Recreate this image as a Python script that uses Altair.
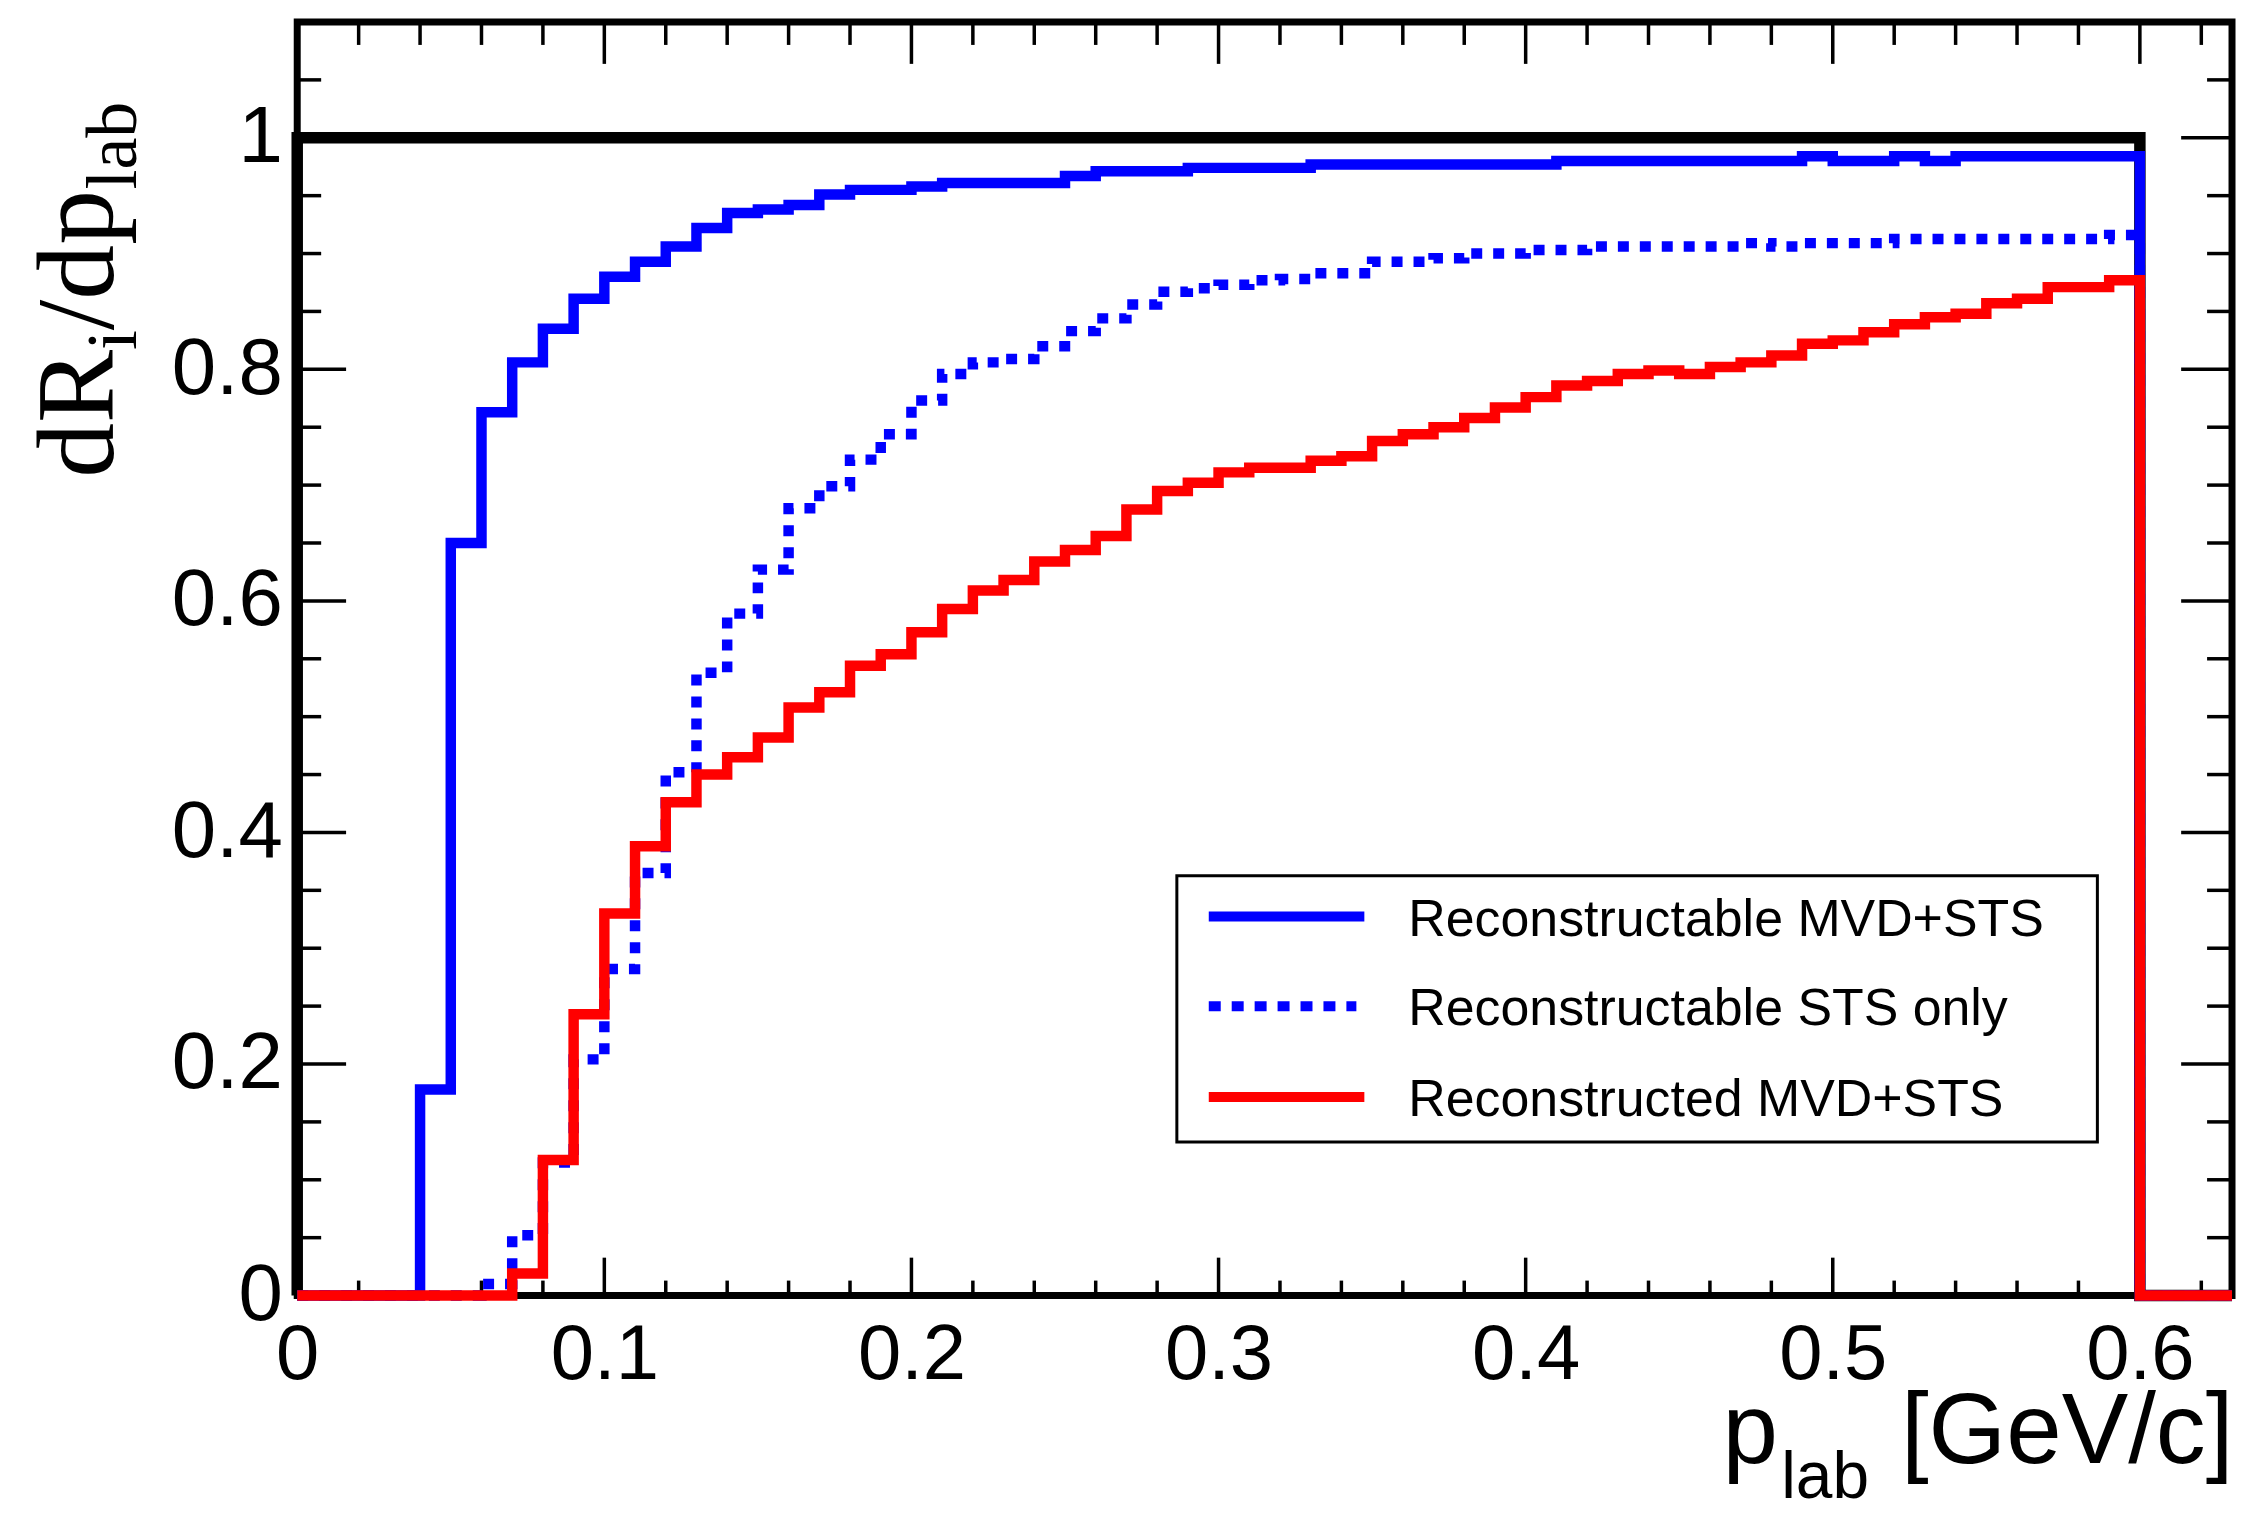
import altair as alt
import pandas as pd

# ---------------- data (bin width 0.01 GeV/c, bins 0.00 ... 0.62) ----------------
reconstructable_mvd_sts = [
    0, 0, 0, 0, 0.178, 0.650, 0.763, 0.806, 0.835, 0.861,
    0.880, 0.893, 0.906, 0.922, 0.935, 0.938, 0.942, 0.951, 0.955, 0.955,
    0.958, 0.961, 0.961, 0.961, 0.961, 0.967, 0.971, 0.971, 0.971, 0.974,
    0.974, 0.974, 0.974, 0.977, 0.977, 0.977, 0.977, 0.977, 0.977, 0.977,
    0.977, 0.980, 0.980, 0.980, 0.980, 0.980, 0.980, 0.980, 0.980, 0.984,
    0.980, 0.980, 0.984, 0.980, 0.984, 0.984, 0.984, 0.984, 0.984, 0.984,
    0, 0, 0,
]
reconstructable_sts_only = [
    0, 0, 0, 0, 0, 0, 0.010, 0.052, 0.115, 0.204,
    0.282, 0.365, 0.452, 0.538, 0.589, 0.627, 0.680, 0.699, 0.722, 0.744,
    0.773, 0.796, 0.806, 0.809, 0.820, 0.833, 0.844, 0.856, 0.867, 0.870,
    0.873, 0.877, 0.878, 0.883, 0.883, 0.893, 0.893, 0.896, 0.900, 0.900,
    0.903, 0.903, 0.906, 0.906, 0.906, 0.906, 0.906, 0.909, 0.906, 0.909,
    0.909, 0.909, 0.9125, 0.9125, 0.9125, 0.9125, 0.9125, 0.9125, 0.9125, 0.916,
    0, 0, 0,
]
reconstructed_mvd_sts = [
    0, 0, 0, 0, 0, 0, 0, 0.019, 0.117, 0.243,
    0.330, 0.388, 0.426, 0.450, 0.465, 0.482, 0.508, 0.521, 0.544, 0.554,
    0.573, 0.593, 0.609, 0.618, 0.634, 0.644, 0.656, 0.679, 0.695, 0.702,
    0.711, 0.715, 0.715, 0.721, 0.725, 0.738, 0.744, 0.750, 0.758, 0.767,
    0.776, 0.786, 0.790, 0.796, 0.799, 0.796, 0.802, 0.806, 0.812, 0.822,
    0.825, 0.832, 0.839, 0.845, 0.848, 0.857, 0.861, 0.871, 0.871, 0.877,
    0, 0, 0,
]
acceptance = [
    1, 1, 1, 1, 1, 1, 1, 1, 1, 1,
    1, 1, 1, 1, 1, 1, 1, 1, 1, 1,
    1, 1, 1, 1, 1, 1, 1, 1, 1, 1,
    1, 1, 1, 1, 1, 1, 1, 1, 1, 1,
    1, 1, 1, 1, 1, 1, 1, 1, 1, 1,
    1, 1, 1, 1, 1, 1, 1, 1, 1, 1,
    0, 0, 0,
]
legend_labels = ["Reconstructable MVD+STS", "Reconstructable STS only", "Reconstructed MVD+STS"]
x_tick_labels = [0, 0.1, 0.2, 0.3, 0.4, 0.5, 0.6]
y_tick_labels = [0, 0.2, 0.4, 0.6, 0.8, 1]
x_major_ticks = [0.1, 0.2, 0.3, 0.4, 0.5, 0.6]
x_minor_ticks = [0.02, 0.04, 0.06, 0.08, 0.12, 0.14, 0.16, 0.18, 0.22, 0.24, 0.26, 0.28,
                 0.32, 0.34, 0.36, 0.38, 0.42, 0.44, 0.46, 0.48, 0.52, 0.54, 0.56, 0.58, 0.62]
y_major_ticks = [0.2, 0.4, 0.6, 0.8, 1.0]
y_minor_ticks = [0.05, 0.1, 0.15, 0.25, 0.3, 0.35, 0.45, 0.5, 0.55, 0.65, 0.7, 0.75,
                 0.85, 0.9, 0.95, 1.05]

BIN = 0.01
X_MAX = 0.63
Y_MAX = 1.1

W, H = 1940, 1277


def steps(values):
    xs = [0.0] + [round(k * BIN, 2) for k in range(len(values))] + [X_MAX]
    ys = [0.0] + list(values) + [values[-1]]
    return pd.DataFrame({"p": xs, "v": ys, "i": list(range(len(xs)))})


xscale = alt.Scale(domain=[0, X_MAX], nice=False, zero=False)
yscale = alt.Scale(domain=[0, Y_MAX], nice=False, zero=False)

x_axis = alt.Axis(values=x_tick_labels, format="~g", labelFontSize=78, labelFont="Liberation Sans",
                  labelColor="black", ticks=False, tickSize=0, domain=False, grid=False,
                  title=None, labelPadding=21, labelFlush=False, labelOverlap=False)
y_axis = alt.Axis(values=y_tick_labels, format="~g", labelFontSize=80, labelFont="Liberation Sans",
                  labelColor="black", ticks=False, tickSize=0, domain=False, grid=False,
                  title=None, labelPadding=15, labelFlush=False, labelOverlap=False)


def X():
    return alt.X("p:Q", scale=xscale, axis=x_axis)


def Y():
    return alt.Y("v:Q", scale=yscale, axis=y_axis)


def hist(values, color, width, dash=None):
    kw = dict(interpolate="step-after", color=color, strokeWidth=width,
              strokeCap="butt", strokeJoin="miter")
    if dash:
        kw["strokeDash"] = dash
    return alt.Chart(steps(values)).mark_line(**kw).encode(x=X(), y=Y(), order="i:Q")


# ---------------- inward ticks ----------------
tick_style = dict(color="black", strokeWidth=3.5)
xmaj = pd.DataFrame({"p": x_major_ticks})
xmin = pd.DataFrame({"p": x_minor_ticks})
ymaj = pd.DataFrame({"v": y_major_ticks})
ymin = pd.DataFrame({"v": y_minor_ticks})

ticks = [
    alt.Chart(xmaj).mark_rule(**tick_style).encode(x=X(), y=alt.value(H), y2=alt.value(H - 38)),
    alt.Chart(xmin).mark_rule(**tick_style).encode(x=X(), y=alt.value(H), y2=alt.value(H - 15)),
    alt.Chart(xmaj).mark_rule(**tick_style).encode(x=X(), y=alt.value(0), y2=alt.value(42)),
    alt.Chart(xmin).mark_rule(**tick_style).encode(x=X(), y=alt.value(0), y2=alt.value(23)),
    alt.Chart(ymaj).mark_rule(**tick_style).encode(y=Y(), x=alt.value(0), x2=alt.value(49)),
    alt.Chart(ymin).mark_rule(**tick_style).encode(y=Y(), x=alt.value(0), x2=alt.value(24)),
    alt.Chart(ymaj).mark_rule(**tick_style).encode(y=Y(), x=alt.value(W), x2=alt.value(W - 51)),
    alt.Chart(ymin).mark_rule(**tick_style).encode(y=Y(), x=alt.value(W), x2=alt.value(W - 25)),
]

# ---------------- histograms ----------------
black_h = hist(acceptance, "black", 11.5)
blue_h = hist(reconstructable_mvd_sts, "#0000ff", 10.5)
dotted_h = hist(reconstructable_sts_only, "#0000ff", 10.5, dash=[11, 11])
red_h = hist(reconstructed_mvd_sts, "#ff0000", 10.5)


# ---------------- text helpers ----------------
def text(label, x, y, size, font="Liberation Sans", angle=0, align="left", baseline="alphabetic"):
    kw = dict(fontSize=size, font=font, align=align, baseline=baseline, color="black")
    if angle:
        kw["angle"] = angle
    return alt.Chart(pd.DataFrame({"t": [label]})).mark_text(**kw).encode(
        text="t:N", x=alt.value(x), y=alt.value(y))


# y axis title  dR_i/dp_lab  (rotated, serif)
y_title = [
    text("dR", -185, 457, 110, font="Liberation Serif", angle=270),
    text("i", -162, 329, 72, font="Liberation Serif", angle=270),
    text("/dp", -185, 309, 110, font="Liberation Serif", angle=270),
    text("lab", -162, 168, 72, font="Liberation Serif", angle=270),
]
# x axis title  p_lab [GeV/c]
x_title = [
    text("p", 1429, 1445, 100),
    text("lab", 1488, 1480, 66),
    text("[GeV/c]", 1608, 1445, 100),
]

# ---------------- legend ----------------
legend_box = alt.Chart(pd.DataFrame({"a": [0]})).mark_rect(
    fill="white", stroke="black", strokeWidth=3).encode(
    x=alt.value(882), x2=alt.value(1805), y=alt.value(856), y2=alt.value(1123))
legend_rows = [
    ("#0000ff", None, 897, 916),
    ("#0000ff", [12, 11], 987, 1006),
    ("#ff0000", None, 1078, 1097),
]
legend_parts = [legend_box]
for label, (col, dash, yc, yb) in zip(legend_labels, legend_rows):
    kw = dict(color=col, strokeWidth=10, strokeCap="butt")
    if dash:
        kw["strokeDash"] = dash
    legend_parts.append(
        alt.Chart(pd.DataFrame({"a": [0]})).mark_rule(**kw).encode(
            x=alt.value(914), x2=alt.value(1070 if dash is None else 1062),
            y=alt.value(yc)))
    legend_parts.append(text(label, 1114, yb, 52))

chart = alt.layer(
    *ticks, black_h, blue_h, dotted_h, red_h, *legend_parts, *y_title, *x_title
).properties(
    width=W, height=H,
    padding={"left": 290, "top": 12, "right": 5, "bottom": 216},
    autosize=alt.AutoSizeParams(type="none"),
).configure_view(
    stroke="black", strokeWidth=7
)

chart.save("out.html", embed_options={"renderer": "svg", "actions": False})
